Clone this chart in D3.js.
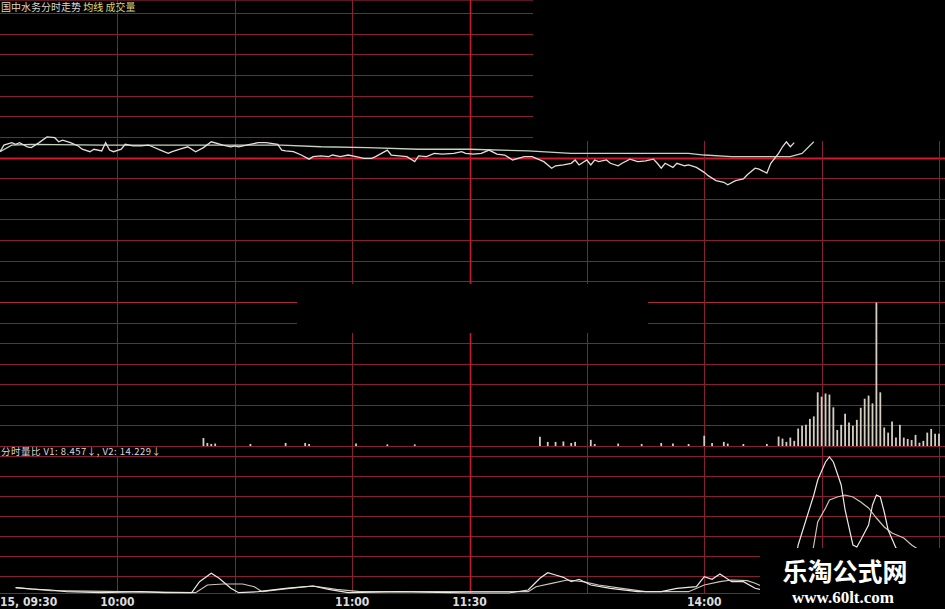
<!DOCTYPE html>
<html><head><meta charset="utf-8">
<script src="https://cdn.jsdelivr.net/npm/d3@7"></script>
<style>html,body{margin:0;padding:0;background:#000;overflow:hidden}</style>
</head><body>
<svg id="c" width="945" height="609"></svg>
<script>
// ---- data ----
const titleParts = ["国中水务分时走势", "均线", "成交量"];
const indicatorLabel = "分时量比 V1: 8.457↓, V2: 14.229↓";
const timeTickMinutes = [0, 30, 90, 120, 180];
const timeTickLabels = ["15, 09:30", "10:00", "11:00", "11:30", "14:00"];
const gridMinutes = [30, 60, 90, 120, 150, 180, 210, 240];

// price, % change vs previous close
const priceMinute = [0,1,3,4,5,7,8,10,12,14,15,16,18,20,21,23,24,26,27,28,29,31,32,34,36,38,39,41,43,44,46,48,50,52,54,57,59,60,61,63,66,68,71,72,73,75,77,79,80,82,84,85,87,89,91,93,95,96,99,100,102,104,106,107,109,111,113,116,118,119,121,123,125,127,129,131,134,136,139,141,142,144,146,147,148,150,151,152,153,155,156,158,159,161,163,165,167,168,169,170,172,173,175,176,178,180,181,183,185,186,188,190,191,193,194,196,197,199,200,201,202,203];
const priceValue = [0.07,0.15,0.18,0.16,0.18,0.13,0.12,0.18,0.25,0.24,0.19,0.21,0.18,0.14,0.10,0.07,0.10,0.08,0.18,0.09,0.07,0.10,0.16,0.14,0.14,0.15,0.13,0.09,0.05,0.07,0.10,0.13,0.07,0.12,0.19,0.15,0.13,0.14,0.13,0.15,0.18,0.18,0.16,0.09,0.08,0.07,0.03,-0.02,0.01,0.02,0.01,0.03,0.01,0.03,0.01,-0.01,-0.01,0.01,0.09,0.03,0.02,0.01,-0.05,0.02,0.01,0.05,0.04,0.05,0.07,0.05,0.04,0.05,0.09,0.04,0.03,-0.03,0.01,0.01,-0.05,-0.13,-0.10,-0.09,-0.07,-0.03,-0.09,-0.03,-0.09,-0.03,-0.05,-0.03,-0.07,-0.10,-0.07,-0.02,-0.05,-0.04,-0.02,-0.07,-0.13,-0.07,-0.12,-0.07,-0.10,-0.09,-0.12,-0.18,-0.22,-0.28,-0.30,-0.33,-0.28,-0.26,-0.21,-0.13,-0.14,-0.19,-0.07,0.05,0.13,0.19,0.13,0.18];

const avgMinute = [0,3,8,26,51,72,82,94,107,120,135,146,158,176,180,187,197,202,205,208];
const avgValue  = [0.07,0.15,0.16,0.15,0.15,0.15,0.13,0.12,0.10,0.10,0.08,0.05,0.05,0.05,0.03,0.01,0.01,0.01,0.05,0.19];

// volume (lots)
const volMinute = [52,53,54,55,64,73,78,79,91,99,106,138,140,142,144,146,147,151,152,158,164,169,172,176,180,182,185,186,190,196,199,200,201,202,203,204,205,206,207,208,209,210,211,212,213,214,215,216,217,218,219,220,221,222,223,224,225,226,227,228,229,230,231,232,233,234,235,236,237,238,239,240];
const volValue  = [390,150,100,120,100,150,150,100,120,80,80,450,200,200,220,150,200,300,100,120,100,150,120,100,500,150,200,120,100,100,460,360,200,410,250,850,980,1030,1320,1440,2610,2400,2550,2500,1880,780,1030,1570,1140,980,1270,1860,2300,2450,2070,6970,2610,900,650,1190,410,1030,410,340,290,540,160,250,650,830,600,600];

// 分时量比 V1 / V2
const v1Minute = [4,8,13,17,26,36,42,49,51,54,56,59,61,66,73,76,80,84,89,102,115,121,130,135,138,140,142,144,146,148,151,156,163,169,173,178,180,182,184,187,190,193,197,202,204,208,209,211,212,213,215,216,218,219,220,222,223,224,225,226,227,229,233,240];
const v1Value  = [1.06,0.8,0.6,0.26,0.06,0.26,0.06,0.06,2.26,3.94,2.94,0.94,0.06,0.26,0.94,1.14,1.4,0.74,0.06,0.26,0.06,0,0,0.6,2.94,4.06,3.6,3.14,2.26,2.74,1.6,0.94,0.26,0.26,0.94,1.26,3.26,2.74,3.8,2.26,2.26,0.94,0.2,0.2,9.6,19.6,22.6,26.2,27.2,26.2,21.6,16.6,9.6,9.2,10.6,13.6,17.6,19.6,19.2,16.2,12.6,9.0,7.0,8.457];
const v2Minute = [4,13,50,53,57,62,65,67,74,80,86,92,135,137,141,145,149,153,159,165,176,180,184,187,191,193,197,206,208,209,211,212,214,216,218,220,222,224,226,228,231,233,240];
const v2Value  = [1.06,0.46,0.06,1.6,1.8,1.8,1.26,0.26,0.94,1.4,0.74,0.26,0.26,1.26,1.94,2.6,2.26,1.6,0.94,0.26,0.26,1.6,2.26,2.6,2.46,1.94,0.6,0.6,9.6,14.2,17.0,18.6,19.2,19.6,19.2,18.2,17.0,15.0,13.2,12.0,11.0,9.6,6.0];

const priceTicks = d3.range(-1.75, 1.7501, 0.25);
const volTicks = d3.range(0, 7001, 1000);
const indTicks = [0.0, 3.4, 7.4, 11.4, 15.4, 19.4, 23.4, 27.4];

// ---- scales ----
const svg = d3.select("#c");
const x = d3.scaleLinear().domain([0, 240]).range([0, 939]);
const yP = d3.scaleLinear().domain([-1.75, 1.75]).range([302, 13]);
const yV = d3.scaleLinear().domain([0, 7000]).range([446, 302]);
const yI = d3.scaleLinear().domain([0, 27.4]).range([593, 456]);

svg.append("rect").attr("width", 945).attr("height", 609).attr("fill", "#000");

const grid = svg.append("g");
const gridColor = "#862133";
// horizontal grid
grid.append("line").attr("x1", 0).attr("x2", 945).attr("y1", 0.5).attr("y2", 0.5).attr("stroke", "#5a1622");
priceTicks.forEach(t => {
  const yy = Math.round(yP(t)) + 0.5;
  grid.append("line").attr("x1", 0).attr("x2", 945).attr("y1", yy).attr("y2", yy)
    .attr("stroke", Math.abs(t) < 1e-9 ? "#d3182c" : (Math.abs(t + 1.75) < 1e-9 ? "#a8283c" : gridColor))
    .attr("stroke-width", Math.abs(t) < 1e-9 ? 2 : 1);
});
volTicks.forEach(t => {
  if (t === 7000) return;
  const yy = Math.round(yV(t)) + 0.5;
  grid.append("line").attr("x1", 0).attr("x2", 945).attr("y1", yy).attr("y2", yy).attr("stroke", gridColor);
});
indTicks.forEach(t => {
  const yy = Math.round(yI(t)) + 0.5;
  grid.append("line").attr("x1", 0).attr("x2", 945).attr("y1", yy).attr("y2", yy).attr("stroke", gridColor);
});
gridMinutes.forEach(m => {
  const xx = Math.round(x(m)) + 0.5;
  grid.append("line").attr("x1", xx).attr("x2", xx).attr("y1", 0).attr("y2", 593)
    .attr("stroke", m === 120 ? "#c21a2e" : gridColor).attr("stroke-width", m === 120 ? 1.6 : 1);
});

// volume bars
svg.append("g").selectAll("line").data(volMinute).join("line")
  .attr("x1", (d) => x(d)).attr("x2", (d) => x(d))
  .attr("y1", yV(0)).attr("y2", (d, i) => yV(volValue[i]))
  .attr("stroke", "#d6cfc0").attr("stroke-width", 1.8);

// price & average lines
const priceData = priceMinute.map((m, i) => [m, priceValue[i]]);
const avgData = avgMinute.map((m, i) => [m, avgValue[i]]);
const lp = d3.line().x(d => x(d[0])).y(d => yP(d[1]));
svg.append("path").attr("d", lp(avgData)).attr("fill", "none").attr("stroke", "#c4d4bc").attr("stroke-width", 1.3);
svg.append("path").attr("d", lp(priceData)).attr("fill", "none").attr("stroke", "#e6dcdc").attr("stroke-width", 1.3);

// indicator lines
const li = d3.line().x(d => x(d[0])).y(d => yI(d[1]));
svg.append("path").attr("d", li(v2Minute.map((m, i) => [m, v2Value[i]]))).attr("fill", "none").attr("stroke", "#cfc6b4").attr("stroke-width", 1.2);
svg.append("path").attr("d", li(v1Minute.map((m, i) => [m, v1Value[i]]))).attr("fill", "none").attr("stroke", "#ece8e2").attr("stroke-width", 1.2);

// black overlays present in the picture
svg.append("rect").attr("x", 533).attr("y", 0).attr("width", 412).attr("height", 141).attr("fill", "#000");
svg.append("rect").attr("x", 297).attr("y", 284).attr("width", 351).attr("height", 49).attr("fill", "#000");

// title
const cjk = "'Noto Sans CJK SC', 'Noto Sans', sans-serif";
const title = svg.append("text").attr("x", 1).attr("y", 11).attr("font-family", cjk).attr("font-size", 10);
title.append("tspan").text(titleParts[0]).attr("fill", "#d8d8d0");
title.append("tspan").text(" " + titleParts[1]).attr("fill", "#e8e080");
title.append("tspan").text(" " + titleParts[2]).attr("fill", "#d8d070");

// indicator label
svg.append("rect").attr("x", 0).attr("y", 447).attr("width", 165).attr("height", 9).attr("fill", "#000");
svg.append("text").attr("x", 1).attr("y", 455).attr("font-family", cjk).attr("font-size", 9.5)
  .attr("fill", "#d8d8d8").attr("textLength", 160).attr("lengthAdjust", "spacing").text(indicatorLabel);

// time axis
svg.append("rect").attr("x", 0).attr("y", 594).attr("width", 945).attr("height", 15).attr("fill", "#000");
timeTickMinutes.forEach((m, i) => {
  svg.append("text").attr("x", i === 0 ? 0 : x(m)).attr("y", 606)
    .attr("text-anchor", i === 0 ? "start" : "middle")
    .attr("font-family", "'Liberation Sans Narrow', 'DejaVu Sans Condensed', sans-serif")
    .attr("font-weight", "bold").attr("font-size", 12).attr("fill", "#dcdcdc")
    .text(timeTickLabels[i]);
});

// watermark
svg.append("rect").attr("x", 760).attr("y", 548).attr("width", 185).attr("height", 61).attr("fill", "#000");
svg.append("text").attr("x", 845).attr("y", 581).attr("text-anchor", "middle")
  .attr("font-family", cjk).attr("font-weight", "bold").attr("font-size", 25).attr("fill", "#ffffff").text("乐淘公式网");
svg.append("text").attr("x", 843).attr("y", 603).attr("text-anchor", "middle")
  .attr("font-family", "'Liberation Serif', 'DejaVu Serif', serif").attr("font-weight", "bold")
  .attr("font-size", 17).attr("fill", "#ffffff").text("www.60lt.com");
</script>
</body></html>
